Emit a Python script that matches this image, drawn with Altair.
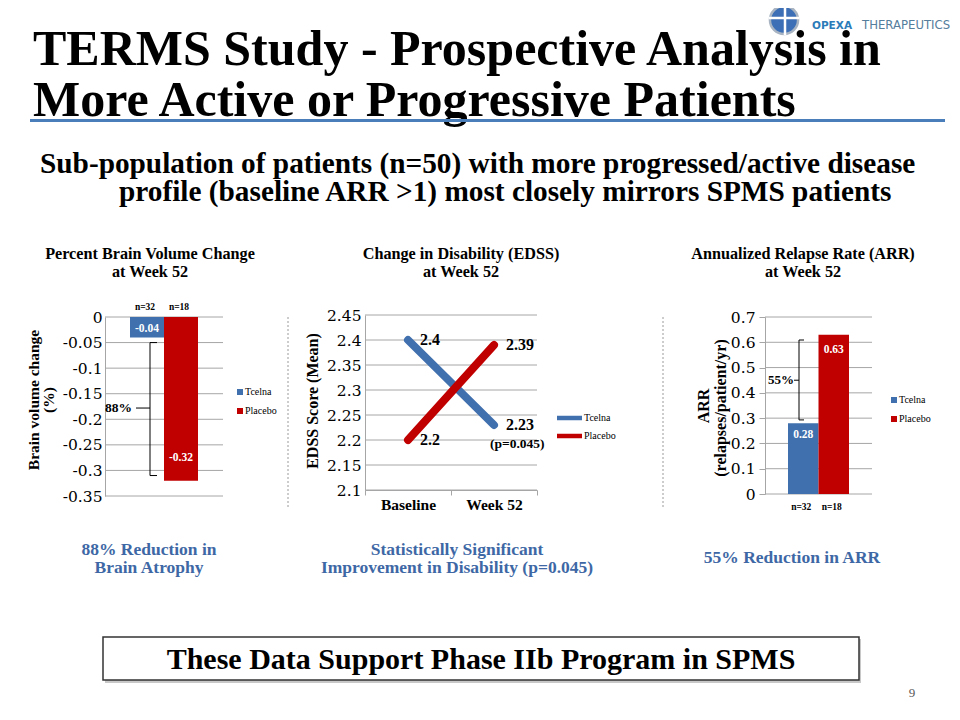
import altair as alt
import pandas as pd

OX, OY = 8, 8
SERIF = "Liberation Serif"
NUMF = "DejaVu Serif"
SANS = "DejaVu Sans"
BLUE = "#4170AE"
RED = "#C00000"
GRID = "#A6A6A6"
CAPTION = "#3E68A5"

# ---------------- text content ----------------
title_lines = ["TERMS Study - Prospective Analysis in", "More Active or Progressive Patients"]
subtitle_lines = ["Sub-population of patients (n=50) with more progressed/active disease",
                  "profile (baseline ARR >1) most closely mirrors SPMS patients"]
logo_words = ["OPEXA", "THERAPEUTICS"]
footer_text = "These Data Support Phase IIb Program in SPMS"
page_number = "9"

groups = ["Tcelna", "Placebo"]
group_n = ["n=32", "n=18"]

# ---------------- panel 1: brain volume ----------------
bv_title = ["Percent Brain Volume Change", "at Week 52"]
bv_axis_title = ["Brain volume change", "(%)"]
bv_values = [-0.04, -0.32]
bv_ticks = [0, -0.05, -0.1, -0.15, -0.2, -0.25, -0.3, -0.35]
bv_bracket = [-0.05, -0.31]
bv_bracket_mid = [-0.178]
bv_reduction = ["88%"]
bv_caption = ["88% Reduction in", "Brain Atrophy"]

# ---------------- panel 2: EDSS ----------------
edss_title = ["Change in Disability (EDSS)", "at Week 52"]
edss_axis_title = "EDSS Score (Mean)"
edss_times = ["Baseline", "Week 52"]
edss_tcelna = [2.4, 2.23]
edss_placebo = [2.2, 2.39]
edss_ticks = [2.1, 2.15, 2.2, 2.25, 2.3, 2.35, 2.4, 2.45]
edss_p = "(p=0.045)"
edss_caption = ["Statistically Significant", "Improvement in Disability (p=0.045)"]

# ---------------- panel 3: ARR ----------------
arr_title = ["Annualized Relapse Rate (ARR)", "at Week 52"]
arr_axis_title = ["ARR", "(relapses/patient/yr)"]
arr_values = [0.28, 0.63]
arr_ticks = [0, 0.1, 0.2, 0.3, 0.4, 0.5, 0.6, 0.7]
arr_bracket = [0.293, 0.609]
arr_bracket_mid = [0.45]
arr_reduction = ["55%"]
arr_caption = "55% Reduction in ARR"


def one():
    return pd.DataFrame({"a": [0]})


def text_at(s, x, y, size, font=SERIF, weight="bold", color="black",
            align="left", baseline="alphabetic", angle=0):
    kw = dict(font=font, fontSize=size, fontWeight=weight, color=color,
              align=align, baseline=baseline)
    if angle:
        kw["angle"] = angle
    return alt.Chart(pd.DataFrame({"t": [s]})).mark_text(**kw).encode(
        x=alt.value(x - OX), y=alt.value(y - OY), text="t:N")


def hrule(x0, x1, y, color, width, dash=None):
    kw = dict(color=color, strokeWidth=width)
    if dash:
        kw["strokeDash"] = dash
    return alt.Chart(one()).mark_rule(**kw).encode(
        x=alt.value(x0 - OX), x2=alt.value(x1 - OX), y=alt.value(y - OY))


def vrule(x, y0, y1, color, width, dash=None):
    kw = dict(color=color, strokeWidth=width)
    if dash:
        kw["strokeDash"] = dash
    return alt.Chart(one()).mark_rule(**kw).encode(
        x=alt.value(x - OX), y=alt.value(y0 - OY), y2=alt.value(y1 - OY))


def yscale(domain, bottom, top):
    return alt.Scale(domain=domain, range=[bottom - OY, top - OY], nice=False, zero=False)


def band(domain, x0, x1):
    return alt.Scale(type="band", domain=domain, range=[x0 - OX, x1 - OX],
                     paddingInner=0, paddingOuter=0)


def grid_layer(ticks, scale, x0, x1, label_size, pad, tick_size):
    df = pd.DataFrame({"v": ticks})
    return alt.Chart(df).mark_rule(color=GRID, strokeWidth=1).encode(
        y=alt.Y("v:Q", scale=scale, axis=alt.Axis(
            orient="left", offset=-(x0 - OX), values=ticks,
            labelExpr="'' + datum.value", grid=False, domainColor=GRID,
            tickColor=GRID, tickSize=tick_size, ticks=tick_size > 0,
            labelFont=NUMF, labelFontSize=label_size, labelColor="black",
            labelPadding=pad, title=None, labelOverlap=False)),
        x=alt.value(x0 - OX), x2=alt.value(x1 - OX))


def square_legend(y0, y1, xs, xl):
    df = pd.DataFrame({"grp": groups})
    ys = alt.Scale(type="point", domain=groups, range=[y0 - OY, y1 - OY], padding=0)
    sq = alt.Chart(df).mark_square(size=36, opacity=1).encode(
        x=alt.value(xs - OX), y=alt.Y("grp:N", scale=ys, axis=None),
        color=alt.Color("grp:N", scale=alt.Scale(domain=groups, range=[BLUE, RED]), legend=None))
    lb = alt.Chart(df).mark_text(font=SERIF, fontSize=10, align="left", baseline="middle").encode(
        x=alt.value(xl - OX), y=alt.Y("grp:N", scale=ys, axis=None), text="grp:N")
    return [sq, lb]


layers = []

# ---------------- slide header ----------------
layers.append(alt.Chart(one()).mark_point(filled=True, size=790, color="#3C6FB5",
                                          stroke="#A9B4C2", strokeWidth=2.5, opacity=1).encode(
    x=alt.value(784 - OX), y=alt.value(20 - OY)))
layers.append(hrule(769, 799, 18, "white", 2.5))
layers.append(vrule(785, 5, 35, "white", 2.5))
layers.append(text_at(logo_words[0], 812, 28.5, 10.5, font=SANS, color="#2B7BB9"))
layers.append(text_at(logo_words[1], 862, 28.5, 11.7, font=SANS, weight="normal", color="#557D9C"))

layers.append(text_at(title_lines[0], 33, 65, 50))
layers.append(text_at(title_lines[1], 33, 115.5, 50))
layers.append(hrule(30, 945, 120.5, "#4A7EBB", 3))

layers.append(text_at(subtitle_lines[0], 40, 173, 29.3))
layers.append(text_at(subtitle_lines[1], 119, 201, 29.3))

# ---------------- panel titles ----------------
layers.append(text_at(bv_title[0], 150, 258.5, 16.2, align="center"))
layers.append(text_at(bv_title[1], 150, 276.5, 16.2, align="center"))
layers.append(text_at(edss_title[0], 461, 258.5, 16.2, align="center"))
layers.append(text_at(edss_title[1], 461, 276.5, 16.2, align="center"))
layers.append(text_at(arr_title[0], 803, 258.5, 16.2, align="center"))
layers.append(text_at(arr_title[1], 803, 276.5, 16.2, align="center"))

# separators
layers.append(vrule(288, 317, 507, "#9A9A9A", 1, dash=[2, 2]))
layers.append(vrule(663, 317, 507, "#9A9A9A", 1, dash=[2, 2]))

# ---------------- panel 1 ----------------
sc1 = yscale([-0.35, 0], 496, 317)
bx1 = band(groups, 130, 198)
layers.append(grid_layer(bv_ticks, sc1, 105, 223, 15.5, 3, 0))
df1 = pd.DataFrame({"grp": groups, "val": bv_values, "n": group_n})
layers.append(alt.Chart(df1).mark_bar(stroke=None).encode(
    x=alt.X("grp:N", scale=bx1, axis=None),
    y=alt.Y("val:Q", scale=sc1, axis=None, stack=None),
    color=alt.Color("grp:N", scale=alt.Scale(domain=groups, range=[BLUE, RED]), legend=None)))
for g, dy in zip(groups, [-8.5, -23]):
    layers.append(alt.Chart(df1).transform_filter(alt.datum.grp == g).transform_calculate(
        lbl="'' + datum.val").mark_text(font=SERIF, fontWeight="bold", fontSize=11.5,
                                        color="white", baseline="middle", dy=dy).encode(
        x=alt.X("grp:N", scale=bx1, axis=None), y=alt.Y("val:Q", scale=sc1, axis=None),
        text="lbl:N"))
layers.append(alt.Chart(df1).mark_text(font=SERIF, fontWeight="bold", fontSize=9.5,
                                       baseline="middle", dx=-2).encode(
    x=alt.X("grp:N", scale=bx1, axis=None), y=alt.value(307 - OY), text="n:N"))
# bracket
dfb1 = pd.DataFrame({"top": [bv_bracket[1]], "bot": [bv_bracket[0]]})
layers.append(alt.Chart(dfb1).mark_rule(color="black", strokeWidth=1).encode(
    x=alt.value(150 - OX), y=alt.Y("top:Q", scale=sc1, axis=None), y2="bot:Q"))
layers.append(alt.Chart(pd.DataFrame({"v": bv_bracket})).mark_rule(color="black", strokeWidth=1).encode(
    x=alt.value(150 - OX), x2=alt.value(157 - OX), y=alt.Y("v:Q", scale=sc1, axis=None)))
dfm1 = pd.DataFrame({"v": bv_bracket_mid, "t": bv_reduction})
layers.append(alt.Chart(dfm1).mark_rule(color="black", strokeWidth=1).encode(
    x=alt.value(136 - OX), x2=alt.value(150 - OX), y=alt.Y("v:Q", scale=sc1, axis=None)))
layers.append(alt.Chart(dfm1).mark_text(font=SERIF, fontWeight="bold", fontSize=13.5,
                                        align="right", baseline="middle").encode(
    x=alt.value(132 - OX), y=alt.Y("v:Q", scale=sc1, axis=None), text="t:N"))
layers += square_legend(392, 411, 240, 245)
layers.append(text_at(bv_axis_title[0], 34, 400, 15.5, align="center", baseline="middle", angle=270))
layers.append(text_at(bv_axis_title[1], 49, 400, 15.5, align="center", baseline="middle", angle=270))

# ---------------- panel 2 ----------------
sc2 = yscale([2.1, 2.45], 490, 315)
layers.append(grid_layer(edss_ticks, sc2, 365, 537, 15.5, 4, 0))
layers.append(alt.Chart(pd.DataFrame({"time": edss_times})).mark_rule(strokeOpacity=0).encode(
    x=alt.X("time:N", scale=band(edss_times, 365, 537), axis=alt.Axis(
        orient="bottom", offset=-(704 - (490 - OY)), tickBand="extent", domainColor=GRID,
        tickColor=GRID, tickSize=5, labelFont=SERIF, labelFontWeight="bold", labelFontSize=15.5,
        labelColor="black", labelPadding=2, title=None, labelAngle=0)),
    y=alt.value(0), y2=alt.value(1)))
df2 = pd.DataFrame({
    "series": [groups[0]] * 2 + [groups[1]] * 2,
    "time": edss_times * 2,
    "val": edss_tcelna + edss_placebo,
})
px2 = alt.Scale(type="point", domain=edss_times, range=[365 - OX, 537 - OX], padding=0.5)
layers.append(alt.Chart(df2).mark_line(strokeWidth=8, strokeCap="round").encode(
    x=alt.X("time:N", scale=px2, axis=None),
    y=alt.Y("val:Q", scale=sc2, axis=None),
    color=alt.Color("series:N", scale=alt.Scale(domain=groups, range=[BLUE, RED]), legend=None),
    detail="series:N"))
layers.append(alt.Chart(df2).transform_calculate(lbl="'' + datum.val").mark_text(
    font=SERIF, fontWeight="bold", fontSize=16, align="left", baseline="middle", dx=12).encode(
    x=alt.X("time:N", scale=px2, axis=None), y=alt.Y("val:Q", scale=sc2, axis=None),
    text="lbl:N"))
layers.append(alt.Chart(df2).transform_filter(
    (alt.datum.series == groups[0]) & (alt.datum.time == edss_times[1])).transform_calculate(
    lbl="'" + edss_p + "'").mark_text(font=SERIF, fontWeight="bold", fontSize=13.5,
                                      align="left", baseline="middle", dx=-4, dy=19).encode(
    x=alt.X("time:N", scale=px2, axis=None), y=alt.Y("val:Q", scale=sc2, axis=None),
    text="lbl:N"))
dfl2 = pd.DataFrame({"grp": groups})
ys2 = alt.Scale(type="point", domain=groups, range=[418 - OY, 436 - OY], padding=0)
layers.append(alt.Chart(dfl2).mark_rule(strokeWidth=4.5).encode(
    x=alt.value(557 - OX), x2=alt.value(582 - OX), y=alt.Y("grp:N", scale=ys2, axis=None),
    color=alt.Color("grp:N", scale=alt.Scale(domain=groups, range=[BLUE, RED]), legend=None)))
layers.append(alt.Chart(dfl2).mark_text(font=SERIF, fontSize=10, align="left", baseline="middle").encode(
    x=alt.value(584 - OX), y=alt.Y("grp:N", scale=ys2, axis=None), text="grp:N"))
layers.append(text_at(edss_axis_title, 313, 401, 16, align="center", baseline="middle", angle=270))

# ---------------- panel 3 ----------------
sc3 = yscale([0, 0.7], 494, 317)
bx3 = band(groups, 788, 849)
layers.append(grid_layer(arr_ticks, sc3, 765, 872, 15.5, 4, 6))
df3 = pd.DataFrame({"grp": groups, "val": arr_values, "n": group_n})
layers.append(alt.Chart(df3).mark_bar(stroke=None).encode(
    x=alt.X("grp:N", scale=bx3, axis=None),
    y=alt.Y("val:Q", scale=sc3, axis=None, stack=None),
    color=alt.Color("grp:N", scale=alt.Scale(domain=groups, range=[BLUE, RED]), legend=None)))
for g, dy in zip(groups, [12, 15.5]):
    layers.append(alt.Chart(df3).transform_filter(alt.datum.grp == g).transform_calculate(
        lbl="'' + datum.val").mark_text(font=SERIF, fontWeight="bold", fontSize=11.5,
                                        color="white", baseline="middle", dy=dy).encode(
        x=alt.X("grp:N", scale=bx3, axis=None), y=alt.Y("val:Q", scale=sc3, axis=None),
        text="lbl:N"))
layers.append(alt.Chart(df3).mark_text(font=SERIF, fontWeight="bold", fontSize=9.5,
                                       baseline="middle", dx=-2).encode(
    x=alt.X("grp:N", scale=bx3, axis=None), y=alt.value(507 - OY), text="n:N"))
dfb3 = pd.DataFrame({"top": [arr_bracket[1]], "bot": [arr_bracket[0]]})
layers.append(alt.Chart(dfb3).mark_rule(color="black", strokeWidth=1).encode(
    x=alt.value(799 - OX), y=alt.Y("top:Q", scale=sc3, axis=None), y2="bot:Q"))
layers.append(alt.Chart(pd.DataFrame({"v": arr_bracket})).mark_rule(color="black", strokeWidth=1).encode(
    x=alt.value(799 - OX), x2=alt.value(804 - OX), y=alt.Y("v:Q", scale=sc3, axis=None)))
dfm3 = pd.DataFrame({"v": arr_bracket_mid, "t": arr_reduction})
layers.append(alt.Chart(dfm3).mark_rule(color="black", strokeWidth=1).encode(
    x=alt.value(794 - OX), x2=alt.value(799 - OX), y=alt.Y("v:Q", scale=sc3, axis=None)))
layers.append(alt.Chart(dfm3).mark_text(font=SERIF, fontWeight="bold", fontSize=13,
                                        align="right", baseline="middle").encode(
    x=alt.value(794 - OX), y=alt.Y("v:Q", scale=sc3, axis=None), text="t:N"))
layers += square_legend(400, 419, 894, 899)
layers.append(text_at(arr_axis_title[0], 704, 406, 16, align="center", baseline="middle", angle=270))
layers.append(text_at(arr_axis_title[1], 721, 408, 16, align="center", baseline="middle", angle=270))

# ---------------- captions ----------------
layers.append(text_at(bv_caption[0], 149, 550, 17.5, color=CAPTION, align="center", baseline="middle"))
layers.append(text_at(bv_caption[1], 149, 568, 17.5, color=CAPTION, align="center", baseline="middle"))
layers.append(text_at(edss_caption[0], 457, 550, 17.5, color=CAPTION, align="center", baseline="middle"))
layers.append(text_at(edss_caption[1], 457, 568, 17.5, color=CAPTION, align="center", baseline="middle"))
layers.append(text_at(arr_caption, 792, 558, 17.5, color=CAPTION, align="center", baseline="middle"))

# ---------------- footer box ----------------
layers.append(alt.Chart(one()).mark_rect(color="#C8C8C8").encode(
    x=alt.value(105 - OX), x2=alt.value(861 - OX), y=alt.value(639 - OY), y2=alt.value(683 - OY)))
layers.append(alt.Chart(one()).mark_rect(fill="white", stroke="#333333", strokeWidth=1.5).encode(
    x=alt.value(103 - OX), x2=alt.value(859 - OX), y=alt.value(637 - OY), y2=alt.value(680 - OY)))
layers.append(text_at(footer_text, 481, 669, 30, align="center"))
layers.append(text_at(page_number, 912, 697, 13, weight="normal", color="#595959", align="center"))

chart = alt.layer(*layers).resolve_scale(
    x="independent", y="independent", color="independent"
).resolve_axis(x="independent", y="independent").properties(
    width=944, height=704, autosize=alt.AutoSizeParams(type="none"), padding=0,
    background="white"
).configure_view(strokeWidth=0)

chart.save("out.html", embed_options={"renderer": "svg", "actions": False})
